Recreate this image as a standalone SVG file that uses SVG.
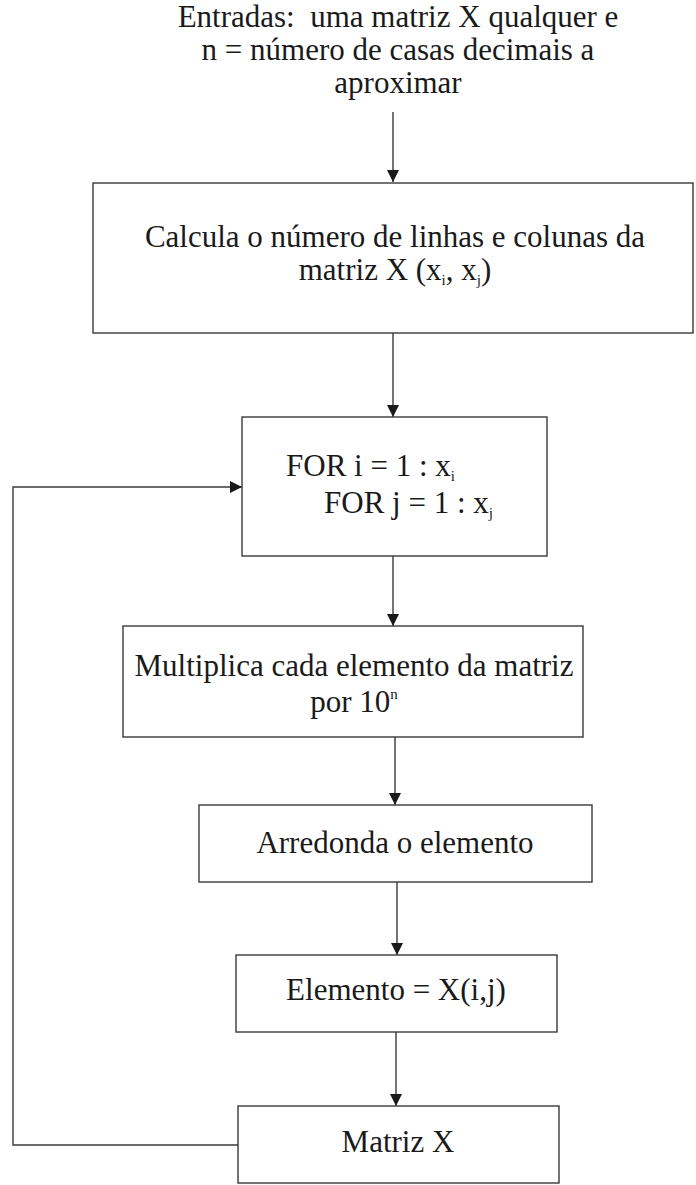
<svg xmlns="http://www.w3.org/2000/svg" width="696" height="1185" viewBox="0 0 696 1185">
<style>
.box{fill:#fff;stroke:#3a3a3a;stroke-width:1.4}
.t{font-family:"Liberation Serif","Times New Roman",serif;font-size:31px;fill:#1a1a1a}
.c{text-anchor:middle}
.sub{font-size:15px}
.edge{fill:none;stroke:#3a3a3a;stroke-width:1.4}
</style>
<defs>
<marker id="ah" markerWidth="12" markerHeight="12" viewBox="0 0 12 12" refX="12" refY="6" orient="auto" markerUnits="userSpaceOnUse">
<path d="M0,0 L12,6 L0,12 Z" fill="#1a1a1a"/>
</marker>
</defs>
<rect width="696" height="1185" fill="#fff"/>
<g id="connectors">
<line class="edge" x1="393" y1="112" x2="393" y2="182" marker-end="url(#ah)"/>
<line class="edge" x1="393" y1="333" x2="393" y2="417" marker-end="url(#ah)"/>
<line class="edge" x1="393" y1="556" x2="393" y2="626" marker-end="url(#ah)"/>
<line class="edge" x1="395" y1="737" x2="395" y2="805" marker-end="url(#ah)"/>
<line class="edge" x1="397" y1="882" x2="397" y2="955" marker-end="url(#ah)"/>
<line class="edge" x1="396" y1="1032" x2="396" y2="1106" marker-end="url(#ah)"/>
<polyline class="edge" points="238,1145 13,1145 13,487 242,487" marker-end="url(#ah)"/>
</g>
<g id="inputs">
<text class="t c" x="398" y="27" xml:space="preserve">Entradas:  uma matriz X qualquer e</text>
<text class="t c" x="398" y="60">n = número de casas decimais a</text>
<text class="t c" x="398" y="93">aproximar</text>
</g>
<g id="node-calcula">
<rect class="box" x="93" y="183" width="600" height="150"/>
<text class="t c" x="395" y="247">Calcula o número de linhas e colunas da</text>
<text class="t c" x="395" y="280">matriz X (x<tspan class="sub" dy="5">i</tspan><tspan dy="-5">, x</tspan><tspan class="sub" dy="5">j</tspan><tspan dy="-5">)</tspan></text>
</g>
<g id="node-for">
<rect class="box" x="242" y="417" width="305" height="139"/>
<text class="t" x="286" y="476">FOR i = 1 : x<tspan class="sub" dy="5">i</tspan></text>
<text class="t" x="324" y="513">FOR j = 1 : x<tspan class="sub" dy="5">j</tspan></text>
</g>
<g id="node-multiplica">
<rect class="box" x="123" y="626" width="460" height="111"/>
<text class="t c" x="354" y="676">Multiplica cada elemento da matriz</text>
<text class="t c" x="354" y="712">por 10<tspan class="sub" dy="-13">n</tspan></text>
</g>
<g id="node-arredonda">
<rect class="box" x="199" y="805" width="393" height="77"/>
<text class="t c" x="395" y="853">Arredonda o elemento</text>
</g>
<g id="node-elemento">
<rect class="box" x="236" y="955" width="321" height="77"/>
<text class="t c" x="396" y="1000">Elemento = X(i,j)</text>
</g>
<g id="node-matriz">
<rect class="box" x="238" y="1106" width="321" height="77"/>
<text class="t c" x="398" y="1152">Matriz X</text>
</g>
</svg>
